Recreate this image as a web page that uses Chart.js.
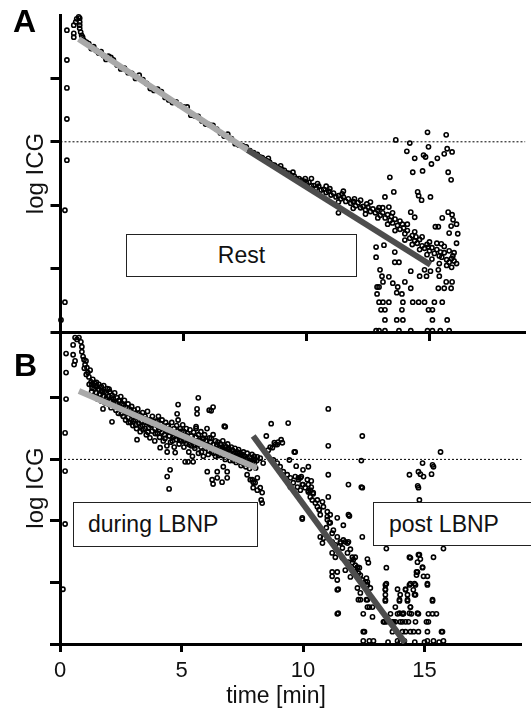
<!DOCTYPE html>
<html>
<head>
<meta charset="utf-8">
<script src="https://cdn.jsdelivr.net/npm/chart.js@4.4.1/dist/chart.umd.min.js"></script>
<style>
    html, body { margin: 0; padding: 0; background: #fff; }
    #wrap { position: relative; width: 531px; height: 709px; overflow: hidden; font-family: "Liberation Sans", Arial, sans-serif; color: #111; }
    canvas { position: absolute; left: 0; top: 0; }
    .tag { position: absolute; font-weight: bold; font-size: 32px; line-height: 32px; color: #000; }
    .box { position: absolute; box-sizing: border-box; border: 1.5px solid #222; background: #fff; font-size: 23px; display: flex; align-items: center; white-space: nowrap; }
    .xtitle { position: absolute; left: 176px; top: 684px; width: 200px; text-align: center; font-size: 23px; line-height: 23px; }
</style>
</head>
<body>
<div id="wrap">
    <canvas id="chartA" width="531" height="709"></canvas>
    <canvas id="chartB" width="531" height="709"></canvas>
    <div class="tag" style="left:13px;top:5px">A</div>
    <div class="tag" style="left:14px;top:349px">B</div>
    <div class="box" style="left:126px;top:234px;width:231px;height:43px;justify-content:center">Rest</div>
    <div class="box" style="left:73px;top:502px;width:185px;height:45px;padding-left:14px">during LBNP</div>
    <div class="box" style="left:373px;top:502px;width:170px;height:44px;padding-left:15px">post LBNP</div>
    <div class="xtitle">time [min]</div>
</div>
<script>
// tick positions (log ICG axis has unlabeled ticks)
const timeTicks = [0, 5, 10, 15];
const levelTicks = [0, 1, 2, 3, 4];
const refLevel = 3;

// ---- panel A: rest ----
const restEarly = [[0.26,4.76],[0.26,4.29],[0.26,3.85],[0.26,3.36],[0.26,2.71],[0.18,1.92],[0.18,0.47],[0.02,0.19],
    [0.54,4.65],[0.54,4.71],[0.54,4.84],[0.62,4.89],[0.66,4.94],[0.74,4.97],[0.78,4.95],[0.78,4.89],[0.78,4.84],[0.78,4.79],[0.82,4.73],[0.86,4.68],[0.9,4.65]];

const restBand = [[0.95,4.60],[1.05,4.57],[1.15,4.55],[1.25,4.47],[1.35,4.50],[1.45,4.44],[1.55,4.40],[1.65,4.42],[1.75,4.36],[1.85,4.30],[1.95,4.35],[2.05,4.33],[2.15,4.29],[2.3,4.21],[2.45,4.15],[2.6,4.16],[2.75,4.09],[2.9,4.08],[3.05,4.00],[3.2,4.05],[3.35,3.98],[3.5,3.92],[3.65,3.84],[3.8,3.81],[3.95,3.83],[4.1,3.79],[4.25,3.70],[4.4,3.66],[4.55,3.62],[4.7,3.63],[4.85,3.58],[5.0,3.55],[5.15,3.55],[5.3,3.42],[5.45,3.41],[5.6,3.40],[5.75,3.33],[5.9,3.28],[6.05,3.27],[6.2,3.26],[6.35,3.20],[6.5,3.14],[6.65,3.09],[6.8,3.12],[6.95,3.05],[7.1,2.97],[7.25,2.95],[7.4,2.94],[7.55,2.92],[7.7,2.86],[7.85,2.83],
    [8.0,2.80],[8.1,2.76],[8.2,2.75],[8.3,2.72],[8.4,2.70],[8.5,2.68],[8.6,2.64],[8.7,2.63],[8.8,2.60],[8.9,2.58],[9.0,2.56],[9.1,2.55],[9.2,2.51],[9.3,2.50],[9.4,2.47],[9.5,2.46],[9.6,2.42],[9.7,2.42],[9.8,2.39],[9.9,2.38],[10.0,2.35],[10.1,2.36],[10.2,2.31],[10.3,2.31],[10.4,2.27],[10.5,2.30],[10.6,2.24],[10.7,2.25],[10.8,2.20],[10.9,2.22],[11.0,2.16],[11.1,2.19],[11.2,2.13],[11.3,2.15],[11.4,2.10],[11.5,2.13],[11.6,2.06],[11.7,2.10],[11.8,2.03],[11.9,2.06],[12.0,1.99],[12.1,2.04],[12.2,1.96],[12.3,1.98],[12.4,1.93],[12.5,1.97],[12.6,1.90],[12.7,1.94],[12.8,1.88],[12.9,1.92],[13.0,1.84],[13.1,1.88],[13.2,1.80],[13.3,1.85],[13.4,1.76],[13.5,1.72],[13.6,1.78],[13.7,1.68],[13.8,1.62],[13.9,1.70],[14.0,1.55],[14.1,1.60],[14.2,1.48],[14.3,1.52],[14.4,1.44],[14.5,1.40],[14.6,1.46],[14.7,1.36],[14.8,1.32],[14.9,1.38],[15.0,1.28],[15.1,1.33],[15.2,1.24],[15.3,1.30],[15.4,1.20],[15.5,1.18],[15.6,1.25],[15.7,1.14],[15.8,1.10],[15.9,1.16],[16.0,1.12],[16.1,1.08],
    [10.2,2.42],[10.8,2.30],[11.3,2.05],[11.5,2.22],[11.9,1.95],[12.2,2.08],[12.4,1.86],[12.6,2.05],[12.9,1.80],[13.1,1.96],[13.3,1.70],[13.5,1.88],[13.6,1.60],[13.8,1.75],[14.0,1.45],[14.1,1.70],[14.3,1.38],[14.4,1.58],[14.6,1.30],[14.7,1.50],[14.9,1.22],[15.0,1.42],[15.1,1.15],[15.3,1.40],[15.4,1.08],[15.6,1.35],[15.7,1.05],[15.8,1.28],[15.9,1.02],[16.0,1.25],[16.1,1.40],[16.15,1.55],[16.1,1.70],[11.3,1.88],
    [8.45,2.74],[8.95,2.62],[9.45,2.52],[9.95,2.42],[10.45,2.34],[10.95,2.26],[11.45,2.18],[11.95,2.10],[12.45,2.02],[12.95,1.96],[13.45,1.82],[13.95,1.64],[14.45,1.50],[14.95,1.34],[15.45,1.26],[15.95,1.20]];

const restTail = [[13.63,3.03],[14.92,3.15],[15.68,3.11],[14.2,2.98],[14.08,2.85],[14.96,2.92],[14.4,2.74],[14.76,2.79],[14.84,2.76],[15.32,2.74],[15.6,2.81],[15.72,2.89],[15.92,2.84],[15.08,2.65],[14.32,2.52],[14.72,2.54],[15.76,2.52],[15.88,2.40],[13.39,2.44],[13.55,2.21],[13.19,2.13],[14.52,2.21],[14.56,2.15],[14.68,2.08],[15.04,2.13],[13.35,1.97],[14.24,1.89],[14.4,1.81],[15.52,1.80],[15.76,1.89],[15.92,1.85],[15.96,1.77],[15.88,1.67],[15.8,1.56],[15.36,1.66],[15.24,1.66],[15.48,1.39],
    [12.83,1.34],[12.83,1.18],[13.15,1.37],[13.59,1.26],[13.76,1.10],[13.59,1.10],[14.24,0.96],[14.8,0.98],[15.04,0.96],[15.36,0.98],[12.99,0.98],[13.07,0.88],[13.35,0.87],[13.51,0.77],[13.11,0.79],[12.87,0.71],[12.95,0.71],[13.71,0.71],[14.0,0.79],[14.6,0.88],[14.88,0.88],[15.4,0.88],[15.68,0.79],[15.92,0.79],[14.24,0.69],[15.36,0.69],[15.6,0.69],[15.88,0.69],[12.87,0.60],[13.67,0.62],[13.88,0.60],
    [12.95,0.47],[13.11,0.47],[13.35,0.47],[13.92,0.47],[14.32,0.47],[14.56,0.47],[14.8,0.47],[15.2,0.47],[15.52,0.47],
    [13.03,0.35],[13.19,0.35],[13.88,0.35],[14.96,0.35],[15.12,0.35],
    [13.19,0.19],[13.67,0.19],[13.92,0.19],[15.12,0.19],[15.72,0.19],
    [12.83,0.02],[12.95,0.02],[13.19,0.02],[13.76,0.02],[14.24,0.02],[14.92,0.02],[15.12,0.02],[15.44,0.02],[15.8,0.02]];

const restFitEarly = [[0.74,4.62],[7.6,2.87]];
const restFitLate = [[7.6,2.87],[15.04,1.06]];

// ---- panel B: LBNP ----
const lbnpEarly = [[0.25,4.72],[0.25,4.41],[0.25,3.98],[0.21,3.43],[0.21,2.81],[0.21,1.95],[0.12,0.89],
    [0.54,4.86],[0.54,4.7],[0.58,4.54],[0.62,4.6],[0.62,4.98],[0.7,4.95],[0.78,4.98],[0.86,4.91],[0.9,4.83],[0.9,4.75],[0.95,4.67],[0.99,4.62],[1.03,4.54],[1.07,4.6],[1.11,4.49],[1.15,4.41],[1.19,4.34],[1.24,4.45],[1.28,4.26],[1.2,4.22],[1.08,4.38],[1.0,4.48]];

const lbnpBand = [[1.3,4.22],[1.3,4.1],[1.35,4.3],[1.4,4.15],[1.4,4.02],[1.45,4.2],[1.5,4.08],[1.5,4.25],[1.55,3.98],[1.6,4.14],[1.6,4.22],[1.65,4.05],[1.7,4.18],[1.7,3.95],[1.75,4.1],[1.8,4.02],[1.8,4.2],[1.85,3.92],[1.9,4.08],[1.9,3.99],[1.95,4.15],[2.0,3.9],[2.0,4.02],[2.05,4.1],[2.1,3.95],[2.1,3.84],[2.15,4.04],[2.2,3.88],[2.2,3.98],[2.25,4.08],[2.3,3.8],[2.3,3.92],[2.35,4.0],[2.4,3.86],[2.4,3.75],[2.45,3.95],[2.5,3.82],[2.5,4.02],[2.55,3.9],[2.6,3.7],[2.6,3.8],[2.65,3.96],[2.7,3.85],[2.7,3.64],[2.75,3.76],[2.8,3.9],[2.8,3.68],[2.85,3.82],[2.9,3.6],[2.9,3.74],[2.95,3.86],
    [3.0,3.7],[3.0,3.55],[3.05,3.8],[3.1,3.64],[3.1,3.75],[3.15,3.5],[3.2,3.68],[3.2,3.82],[3.25,3.58],[3.3,3.72],[3.3,3.45],[3.35,3.62],[3.4,3.76],[3.4,3.55],[3.45,3.66],[3.5,3.5],[3.5,3.7],[3.55,3.4],[3.6,3.6],[3.6,3.78],[3.65,3.52],[3.7,3.64],[3.7,3.35],[3.75,3.56],[3.8,3.7],[3.8,3.46],[3.85,3.6],[3.9,3.5],[3.9,3.3],[3.95,3.62],
    [4.0,3.42],[4.0,3.55],[4.05,3.7],[4.1,3.48],[4.1,3.36],[4.15,3.58],[4.2,3.44],[4.2,3.64],[4.25,3.3],[4.3,3.52],[4.3,3.4],[4.35,3.6],[4.4,3.46],[4.4,3.22],[4.45,3.55],[4.5,3.38],[4.5,3.5],[4.55,3.28],[4.6,3.45],[4.6,3.6],[4.65,3.36],[4.7,3.5],[4.7,3.2],[4.75,3.42],[4.8,3.32],[4.8,3.55],[4.85,3.46],[4.9,3.25],[4.9,3.38],[4.95,3.5],
    [5.0,3.4],[5.0,3.3],[5.05,3.56],[5.1,3.2],[5.1,3.45],[5.15,3.35],[5.2,3.5],[5.2,3.26],[5.25,3.42],[5.3,3.12],[5.3,3.32],[5.35,3.48],[5.4,3.22],[5.4,3.38],[5.45,3.05],[5.5,3.3],[5.5,3.44],[5.55,3.18],[5.6,3.36],[5.6,3.5],[5.65,3.25],[5.7,3.4],[5.7,3.1],[5.75,3.3],[5.8,3.45],[5.8,3.2],[5.85,3.34],[5.9,3.05],[5.9,3.26],[5.95,3.4],
    [6.0,3.18],[6.0,3.3],[6.05,3.5],[6.1,3.22],[6.1,3.08],[6.15,3.35],[6.2,3.2],[6.2,3.28],[6.25,3.12],[6.3,3.4],[6.3,3.24],[6.35,3.16],[6.4,3.3],[6.4,3.05],[6.45,3.22],[6.5,3.14],[6.5,3.28],[6.55,3.2],[6.6,3.08],[6.6,3.25],[6.65,3.15],[6.7,3.3],[6.7,3.2],[6.75,3.1],[6.8,3.22],[6.8,3.0],[6.85,3.15],[6.9,3.25],[6.9,3.08],[6.95,3.18],
    [7.0,3.12],[7.0,2.98],[7.05,3.2],[7.1,3.08],[7.1,3.15],[7.15,3.02],[7.2,3.18],[7.2,3.1],[7.25,2.95],[7.3,3.12],[7.3,3.05],[7.35,3.16],[7.4,3.0],[7.4,3.1],[7.45,2.9],[7.5,3.08],[7.5,3.02],[7.55,3.12],[7.6,2.96],[7.6,3.05],[7.65,2.88],[7.7,3.02],[7.7,3.1],[7.75,2.95],[7.8,3.04],[7.8,2.85],[7.85,2.98],[7.9,3.08],[7.9,2.9],[7.95,3.0],[8.0,2.94],[8.0,3.05],[8.05,2.86],[8.1,2.98],
    [1.32,4.16],[1.42,4.24],[1.52,4.18],[1.62,4.06],[1.72,4.12],[1.82,4.1],[1.92,3.94],[2.02,4.14],[2.12,4.0],[2.22,3.94],[2.32,3.86],[2.42,3.96],[2.52,3.74],[2.62,3.88],[2.72,3.78],[2.82,3.6],[2.92,3.8],[3.02,3.62],[3.12,3.56],[3.22,3.74],[3.32,3.54],[3.42,3.48],[3.52,3.6],[3.62,3.44],[3.72,3.56],[3.82,3.62],[3.92,3.42],[4.02,3.62],[4.12,3.52],[4.22,3.5],[4.32,3.34],[4.42,3.55],[4.52,3.44],[4.62,3.3],[4.72,3.38],[4.82,3.42],[4.92,3.32],[5.02,3.46],[5.12,3.3],[5.22,3.38],[5.32,3.24],[5.42,3.3],[5.52,3.22],[5.62,3.3],[5.72,3.24],[5.82,3.12],[5.92,3.34],[6.02,3.24],[6.12,3.14],[6.22,3.34],[6.32,3.1],[6.42,3.18],[6.52,3.06],[6.62,3.18],[6.72,3.06],[6.82,3.12],[6.92,3.16],[7.02,3.06],[7.12,2.98],[7.22,3.04],[7.32,2.98],[7.42,3.06],[7.52,2.94],[7.62,3.0],[7.72,2.92],[7.82,2.96],[7.92,2.96],[8.02,3.0]];

const lbnpOutliers = [[4.86,3.89],[5.69,4.0],[5.64,3.82],[6.22,3.79],[6.3,3.85],[5.64,3.74],[6.76,3.54],[4.82,3.74],[4.86,3.64],[6.8,3.53],[5.6,3.53],[6.14,3.8],[1.77,3.82],[2.14,3.61],[3.17,3.32],[4.12,3.19],[4.41,3.12],[4.74,3.11],
    [4.41,2.72],[4.53,2.83],[4.49,2.52],[5.15,2.96],[5.27,2.96],[5.48,2.96],[6.06,2.8],[6.26,2.67],[6.47,2.7],[6.47,2.8],[6.88,2.8],[6.72,2.88],[6.67,2.63],[6.88,2.7],[6.3,2.6],[7.7,2.75],[7.83,2.67],[7.95,2.63],[8.12,2.7],[7.91,2.67],[8.03,2.62],[8.24,2.54],[8.32,2.46],[8.28,2.34],[7.95,2.54],[8.12,2.5],[8.32,2.29]];

const postCloud = [[8.69,3.58],[9.39,3.59],[8.49,3.38],[8.82,3.27],[8.98,3.28],[9.15,3.27],[9.64,3.12],[8.65,3.2],[8.86,3.24],[9.1,3.32],[9.68,3.12],[9.44,2.99],[10.0,2.83],[10.22,2.88],[9.72,2.89],[10.34,2.65],[10.34,2.55],[10.42,2.44],[10.22,2.49],[10.0,2.59],[9.93,2.72],[9.81,2.7],[8.12,3.04],[8.24,3.02],[8.36,2.94],[8.57,3.15],[8.74,3.19],[8.94,3.24],
    [8.78,2.99],[8.94,2.94],[9.06,2.88],[9.19,2.8],[9.35,2.75],[9.48,2.7],[9.6,2.62],[9.77,2.55],[9.89,2.5],[9.81,2.67],[9.97,2.59],[10.09,2.54],[10.22,2.47],[10.3,2.39],[10.38,2.34],[10.51,2.29],[10.59,2.23],[10.67,2.18],[10.71,2.1],
    [9.15,2.75],[9.48,2.55],[9.68,2.72],[9.89,2.7],[10.18,2.67],[10.22,2.59],[10.3,2.5],[10.42,2.46],[10.59,2.34],[10.8,2.31],[10.84,2.23],[11.0,2.15],[11.0,2.02],[11.12,1.97],[11.2,1.8],[11.25,1.85],[11.41,1.74],[11.54,1.64],[11.62,1.56],[11.66,1.69],[11.83,1.64],[11.95,1.54],[12.03,1.41],[12.15,1.41],[12.07,1.37],[12.24,1.25],[12.28,1.15],[12.44,1.04],[12.57,1.01],[12.65,0.96],[12.69,0.83],[12.65,0.72],[12.73,0.6],[12.86,0.44],
    [9.97,2.05],[10.67,2.18],[11.0,2.07],[11.12,2.1],[11.41,2.05],[11.87,2.1],[11.66,1.93],[12.44,1.74],[11.08,1.97],[10.96,1.89],[10.71,1.74],[10.84,1.72],[10.8,1.64],[11.2,1.66],[11.33,1.61],[11.54,1.66],[11.74,1.66],[11.87,1.66],[11.2,1.48],[11.33,1.41],[11.62,1.4],[11.83,1.48],[11.87,1.33],[12.03,1.32],[12.15,1.28],[12.24,1.24],[12.32,1.24],[11.2,1.17],[11.41,1.17],[11.2,1.1],[11.41,1.04],[11.45,0.89],[11.74,1.2],[11.95,1.09],[12.15,1.17],[12.36,1.12],[12.65,1.38],[12.69,1.32],[12.61,1.07],[12.65,1.01],[12.24,0.91],[12.36,0.83],[12.61,0.96],[12.77,0.91],[12.28,0.72],[12.36,0.72],[12.61,0.72],[12.65,0.6],[12.86,0.6],[11.41,0.49],[12.48,0.49],
    [11.04,3.82],[12.44,3.38],[11.04,3.22],[12.4,2.98],[11.04,2.75],[11.87,2.59],[12.44,2.54],[11.04,2.39],[11.91,2.08],[9.97,2.03],[11.41,0.88],[12.53,0.2],[11.45,0.5],[12.4,2.55]];

const postTail = [[14.92,2.94],[15.33,2.91],[14.38,2.75],[14.75,2.8],[14.83,2.76],[14.96,2.72],[15.29,2.76],[14.75,2.54],[14.72,2.57],[14.79,2.34],[15.66,3.12],[15.37,2.88],
    [13.43,1.55],[15.78,1.55],[14.38,1.41],[14.75,1.45],[14.83,1.38],[14.71,1.33],[14.92,1.25],[15.37,1.41],[13.43,1.24],[14.67,1.17],[14.96,1.1],[15.12,1.1],[14.42,0.98],[14.59,0.98],[15.12,0.98],[13.43,0.98],[13.39,0.89],[13.89,0.89],[14.22,0.89],[14.0,0.8],[14.3,0.8],[14.59,0.8],[13.39,0.8],[13.39,0.7],[13.97,0.7],[14.3,0.7],[15.33,0.7],[13.8,0.6],[14.42,0.6],
    [13.6,0.49],[13.89,0.49],[14.09,0.49],[14.13,0.49],[14.46,0.49],[14.75,0.49],[15.16,0.49],[15.33,0.49],[15.49,0.49],
    [13.31,0.36],[13.43,0.36],[13.72,0.36],[13.8,0.36],[14.0,0.36],[14.09,0.36],[14.22,0.36],[14.34,0.36],[14.63,0.36],[15.08,0.36],[15.16,0.36],
    [13.68,0.2],[14.09,0.2],[14.22,0.2],[14.42,0.2],[14.55,0.2],[14.75,0.2],[15.12,0.2],[15.7,0.2],[12.48,0.2],
    [12.48,0.05],[12.9,0.05],[13.5,0.03],[13.89,0.05],[14.0,0.03],[14.17,0.05],[14.6,0.03],[15.0,0.03],[15.12,0.05],[15.37,0.05],[15.6,0.03],[15.78,0.05],
    [14.42,1.4],[14.79,1.45],[14.71,1.17],[14.67,1.12],[14.92,1.24],[15.12,0.96],[14.54,0.88],[14.38,0.96],[14.63,0.96],[15.33,0.72],[15.74,0.2],[13.39,0.96],[13.39,0.88],[13.39,0.72],[14.22,0.88],[14.63,0.8],[13.97,0.72],[14.3,0.72],[14.42,0.6],[13.97,0.5],[14.13,0.5],[14.38,0.5],[14.71,0.5],[13.35,0.36],[13.68,0.36],[12.73,0.05]];

const lbnpFit = [[0.78,4.11],[8.1,2.86]];
const postFit = [[7.95,3.38],[14.2,0.02]];

const FONT = '"Liberation Sans", Arial, sans-serif';
const LIGHT = '#a9a9a9';
const DARK = '#4d4d4d';

const toXY = arr => arr.map(p => ({ x: p[0], y: p[1] }));

function fitLine(points, color) {
    return { data: toXY(points), showLine: true, borderColor: color, borderWidth: 6, pointRadius: 0, borderCapStyle: 'butt' };
}

function dots(points) {
    return { data: toXY(points), showLine: false, pointRadius: 2.1, borderWidth: 1.6, borderColor: '#000', backgroundColor: 'rgba(255,255,255,0)', clip: false };
}

function refLine(xMax) {
    return { data: [{ x: 0, y: refLevel }, { x: xMax, y: refLevel }], showLine: true, borderColor: '#000', borderWidth: 1, borderDash: [2, 2], pointRadius: 0 };
}

function panelOptions(cfg) {
    const axisGrid = len => ({ display: true, drawOnChartArea: false, drawTicks: true, tickLength: len, tickWidth: 3, tickColor: '#000' });
    const axisBorder = { display: true, width: 3, color: '#000' };
    return {
        responsive: false,
        animation: false,
        devicePixelRatio: 1,
        layout: { padding: cfg.padding },
        plugins: { legend: { display: false }, tooltip: { enabled: false } },
        scales: {
            x: {
                type: 'linear', min: 0, max: cfg.xMax,
                afterBuildTicks: s => { s.ticks = timeTicks.map(v => ({ value: v })); },
                afterFit: s => { s.height = cfg.xHeight; },
                grid: axisGrid(cfg.xTickLen),
                border: axisBorder,
                ticks: { display: cfg.xLabels, color: '#111', padding: 6, maxRotation: 0, font: { size: 22, family: FONT } }
            },
            y: {
                type: 'linear', min: 0, max: cfg.yMax,
                afterBuildTicks: s => { s.ticks = levelTicks.map(v => ({ value: v })); },
                afterFit: s => { s.width = cfg.yWidth; },
                grid: axisGrid(10),
                border: axisBorder,
                ticks: { display: false },
                title: { display: true, text: 'log ICG', color: '#111', padding: { top: 22, bottom: 0 }, font: { size: 24, family: FONT } }
            }
        }
    };
}

const xMaxA = 18.9;
new Chart(document.getElementById('chartA'), {
    type: 'scatter',
    data: {
        datasets: [
            fitLine(restFitEarly, LIGHT),
            fitLine(restFitLate, DARK),
            dots(restEarly.concat(restBand, restTail)),
            refLine(xMaxA)
        ]
    },
    options: panelOptions({ padding: { left: 0, top: 15, right: 0, bottom: 368 }, xMax: xMaxA, yMax: 5, xHeight: 9, xTickLen: 9, xLabels: false, yWidth: 60.5 })
});

const xMaxB = 19;
new Chart(document.getElementById('chartB'), {
    type: 'scatter',
    data: {
        datasets: [
            fitLine(lbnpFit, LIGHT),
            fitLine(postFit, DARK),
            dots(lbnpEarly.concat(lbnpBand, lbnpOutliers, postCloud, postTail)),
            refLine(xMaxB)
        ]
    },
    options: panelOptions({ padding: { left: 0, top: 332, right: 9.3, bottom: 0 }, xMax: xMaxB, yMax: 5.07, xHeight: 65, xTickLen: 8, xLabels: true, yWidth: 60 })
});
</script>
</body>
</html>
